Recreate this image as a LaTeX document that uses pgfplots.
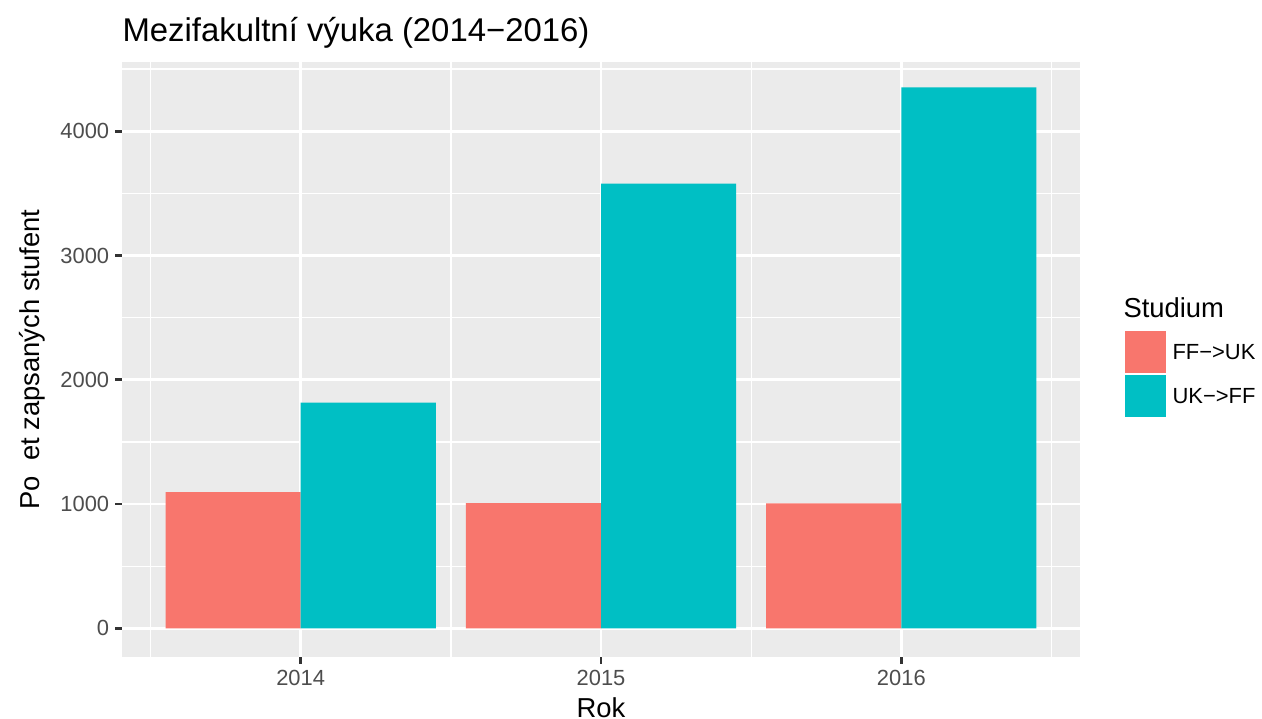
\documentclass[border=0pt]{standalone}
\usepackage{fontspec}
\setmainfont{Liberation Sans}
\usepackage{pgfplots}
\pgfplotsset{compat=1.18}
\definecolor{ffuk}{HTML}{F8766D}
\definecolor{ukff}{HTML}{00BFC4}
\definecolor{panelbg}{HTML}{EBEBEB}
\definecolor{tickcol}{HTML}{333333}
\definecolor{ticklab}{HTML}{4D4D4D}
\begin{document}
\begin{tikzpicture}
\useasboundingbox (0bp,0bp) rectangle (504.8bp,287.6bp);
\begin{axis}[
  at={(48.8bp,24.8bp)}, anchor=south west,
  scale only axis, width=383.2bp, height=238bp,
  xmin=2013.405, xmax=2016.595,
  ymin=-230, ymax=4557,
  axis background/.style={fill=panelbg},
  axis line style={draw=none},
  xtick={2014,2015,2016},
  minor xtick={2013.5,2014.5,2015.5,2016.5},
  ytick={0,1000,2000,3000,4000},
  minor ytick={500,1500,2500,3500,4500},
  xmajorgrids, ymajorgrids, xminorgrids, yminorgrids,
  major grid style={white, line width=1.07bp},
  minor grid style={white, line width=0.53bp},
  tick align=outside,
  major tick length=2.75bp,
  minor tick length=0pt,
  tick style={tickcol, line width=1.07bp},
  xtick pos=bottom, ytick pos=left,
  /pgf/number format/assume math mode=true,
  /pgf/number format/set thousands separator={},
  tick label style={font=\fontsize{8.8}{10}\selectfont, text=ticklab, inner sep=0pt},
  xticklabel style={anchor=north, yshift=-2.2bp},
  yticklabel style={anchor=east, xshift=-2.2bp},
  xticklabel={\pgfmathprintnumber[fixed,precision=0]{\tick}},
  xlabel={Rok},
  ylabel={Po\hspace{6bp}et zapsaných stufent},
  label style={font=\fontsize{11}{13}\selectfont},
  xlabel style={at={(axis description cs:0.5,0)}, anchor=base, yshift=-24bp, inner sep=0pt},
  ylabel style={at={(axis description cs:-0.0866,0.5)}, anchor=base, inner sep=0pt},
  legend style={at={(axis description cs:1.046,0.5479)}, anchor=north west, draw=none, fill=none,
    inner sep=0pt, row sep=1.2bp, font=\fontsize{8.8}{10}\selectfont,
    nodes={inner sep=0pt, anchor=base west},
    /tikz/every odd column/.append style={column sep=2.8bp}},
  legend cell align=left,
  legend image code/.code={\fill[#1] (0bp,-5.05bp) rectangle (16.4bp,11.35bp);},
  clip=false,
]
\addplot[ybar, bar width=0.45, bar shift=-0.225, fill=ffuk, draw=none] coordinates {(2014,1097) (2015,1008) (2016,1006)};
\addlegendentry{FF−>UK}
\addplot[ybar, bar width=0.45, bar shift=0.225, fill=ukff, draw=none] coordinates {(2014,1816) (2015,3579) (2016,4352)};
\addlegendentry{UK−>FF}
\end{axis}
\node[anchor=base west, inner sep=0pt, font=\fontsize{13.2}{15}\selectfont] at (48.8bp,270.8bp) {Mezifakultní výuka (2014−2016)};
\node[anchor=base west, inner sep=0pt, font=\fontsize{11}{13}\selectfont] at (449.2bp,160.4bp) {Studium};
\end{tikzpicture}
\end{document}
